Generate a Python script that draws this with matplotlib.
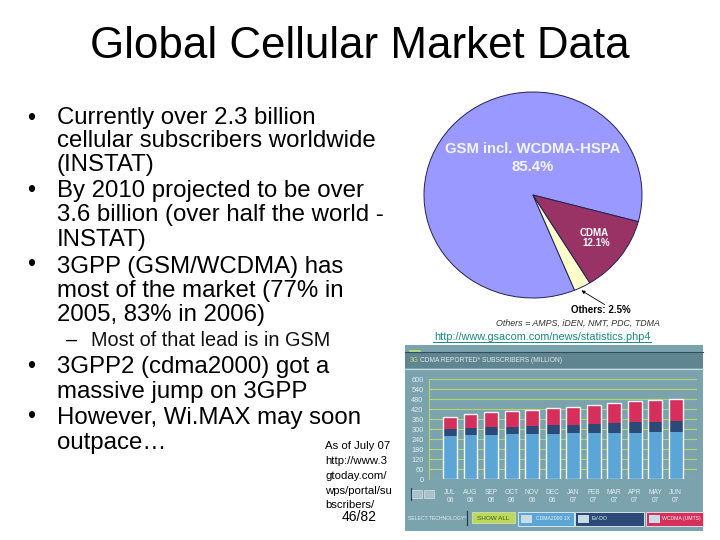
"""Slide: global cellular market data, with a pie and a stacked bar screenshot."""
import matplotlib
matplotlib.use("Agg")
import matplotlib.pyplot as plt
from matplotlib.patches import Rectangle

plt.rcParams["font.family"] = ["Liberation Sans", "DejaVu Sans"]

W, H = 720, 540

title = "Global Cellular Market Data"
body_lines = [
    "Currently over 2.3 billion", "cellular subscribers worldwide", "(INSTAT)",
    "By 2010 projected to be over", "3.6 billion (over half the world -", "INSTAT)",
    "3GPP (GSM/WCDMA) has", "most of the market (77% in", "2005, 83% in 2006)",
]
body_lines2 = ["3GPP2 (cdma2000) got a", "massive jump on 3GPP", "However, Wi.MAX may soon", "outpace…"]
note_lines = ["As of July 07", "http://www.3", "gtoday.com/", "wps/portal/su", "bscribers/"]

pie_labels = ["GSM incl. WCDMA-HSPA", "Others", "CDMA"]
pie_shares = [85.4, 2.5, 12.1]
pie_colors = ["#9999ff", "#ffffcc", "#993366"]

months = ["JUL\n06", "AUG\n06", "SEP\n06", "OCT\n06", "NOV\n06", "DEC\n06",
          "JAN\n07", "FEB\n07", "MAR\n07", "APR\n07", "MAY\n07", "JUN\n07"]
cdma2000 = [260, 266, 266, 270, 274, 274, 276, 278, 280, 280, 282, 286]
evdo = [42, 42, 48, 44, 46, 52, 52, 54, 58, 64, 62, 66]
wcdma = [74, 82, 88, 94, 98, 100, 106, 112, 118, 124, 130, 130]
y_ticks = [0, 60, 120, 180, 240, 300, 360, 420, 480, 540, 600]

fig = plt.figure(figsize=(W / 100, H / 100), dpi=100, facecolor="white")


def px_axes(x0, y0, x1, y1):
    return fig.add_axes([x0 / W, 1 - y1 / H, (x1 - x0) / W, (y1 - y0) / H])


def slide_axes():
    ax = px_axes(0, 0, W, H)
    ax.set_xlim(0, W)
    ax.set_ylim(H, 0)
    ax.axis("off")
    return ax


# whole slide in pixel coordinates, for the text and the screenshot frame
bg = slide_axes()

bg.text(360, 47, title, fontsize=31.6, ha="center", va="center", color="black")

body_y = [118, 141, 165, 191, 215, 240, 267, 291, 315]
for txt, y in zip(body_lines, body_y):
    bg.text(57, y, txt, fontsize=17.3, va="center")
for y in [118, 190, 264, 367, 417]:
    bg.text(27, y, "•", fontsize=16.5, va="center")
bg.text(91, 340, "Most of that lead is in GSM", fontsize=14.3, va="center", color="#111111")
bg.text(66, 340, "–", fontsize=14.3, va="center")
for txt, y in zip(body_lines2, [367, 392, 418, 443]):
    bg.text(57, y, txt, fontsize=17.3, va="center")

for txt, y in zip(note_lines, [446, 461, 476, 491, 505]):
    bg.text(325, y, txt, fontsize=8.2, va="center")
bg.text(342, 517, "46/82", fontsize=10, va="center")

# pie
pie_ax = px_axes(424, 92, 642, 298)
wedges, _ = pie_ax.pie(pie_shares, colors=pie_colors, startangle=-15, radius=1,
                       wedgeprops={"edgecolor": "#222255", "linewidth": 0.7})
pie_ax.set_aspect("auto")
pie_ax.set_xlim(-1, 1)
pie_ax.set_ylim(-1, 1)
for w in wedges:
    w.set_clip_on(False)

# pie labels sit on their own layer above the pie
fg = slide_axes()
fg.patch.set_alpha(0)
fg.text(533, 149, pie_labels[0], fontsize=10.7, fontweight="bold", color="#f4f4ff",
        ha="center", va="center")
fg.text(533, 167, f"{pie_shares[0]}%", fontsize=10.7, fontweight="bold", color="#f4f4ff",
        ha="center", va="center")
fg.text(594, 233, pie_labels[2], fontsize=7, fontweight="bold", color="white",
        ha="center", va="center")
fg.text(596, 243, f"{pie_shares[2]}%", fontsize=7, fontweight="bold", color="white",
        ha="center", va="center")
fg.annotate("", xy=(579, 289), xytext=(607, 306),
            arrowprops={"arrowstyle": "-|>", "color": "black", "lw": 0.6, "mutation_scale": 5})
bg.text(601, 310, f"{pie_labels[1]}: {pie_shares[1]}%", fontsize=7, fontweight="bold",
        ha="center", va="center")
bg.text(578, 323, "Others = AMPS, iDEN, NMT, PDC, TDMA", fontsize=6.4, style="italic",
        ha="center", va="center", color="#333333")
bg.text(542, 337, "http://www.gsacom.com/news/statistics.php4", fontsize=7.8,
        ha="center", va="center", color="#178a80")
bg.plot([433, 651], [341.5, 341.5], color="#178a80", lw=0.7)

# screenshot panel behind the bars
bg.add_patch(Rectangle((405, 345), 298, 186, fc="#7ba3ae", ec="none"))
bg.add_patch(Rectangle((405, 352), 298, 16, fc="#5f8591", ec="none"))
bg.plot([405, 703], [351.5, 351.5], color="#2f4f5a", lw=0.8)
bg.plot([405, 703], [368.5, 368.5], color="#c5dbe0", lw=0.8)
bg.plot([410, 420], [351, 351], color="#c6e070", lw=1.2)
bg.text(410, 360.5, "3G", fontsize=4.8, color="#c6e070", va="center")
bg.text(420, 360.5, "CDMA REPORTED* SUBSCRIBERS (MILLION)", fontsize=4.8, color="#dfe9ec", va="center")

# stacked bars
bar_ax = px_axes(429.3, 379.3, 696.7, 479.3)
bar_ax.patch.set_alpha(0)
xs = list(range(len(months)))
base2 = [a + b for a, b in zip(cdma2000, evdo)]
bar_ax.bar(xs, cdma2000, width=0.68, color="#5ba6d6", zorder=3)
bar_ax.bar(xs, evdo, width=0.68, bottom=cdma2000, color="#2b4a78", zorder=3)
bar_ax.bar(xs, wcdma, width=0.68, bottom=base2, color="#d62f5c", zorder=3)
totals = [a + b for a, b in zip(base2, wcdma)]
bar_ax.bar(xs, totals, width=0.68, fill=False, edgecolor="#f2f6f7", linewidth=1.0, zorder=4)
bar_ax.set_xlim(-1.007, 12.02)
bar_ax.set_ylim(0, 600)
bar_ax.set_yticks(y_ticks)
bar_ax.set_yticklabels([str(v) for v in y_ticks], fontsize=5.3, color="#e4edef")
bar_ax.set_xticks(xs)
bar_ax.set_xticklabels(months, fontsize=4.8, color="#e4edef", linespacing=1.1)
bar_ax.tick_params(length=0, pad=4)
bar_ax.tick_params(axis="x", pad=7)
bar_ax.grid(axis="y", color="#b5d56a", linewidth=0.8, zorder=1)
for side in ["top", "right", "bottom"]:
    bar_ax.spines[side].set_visible(False)
bar_ax.spines["left"].set_color("#b5d56a")
bar_ax.spines["left"].set_linewidth(0.8)

# paging and technology buttons of the screenshot
for x0 in [412, 424]:
    bg.add_patch(Rectangle((x0, 490), 10, 8, fc="#a9c3cc", ec="#e4edef", lw=0.4))
bg.plot([410.5, 410.5], [488, 500], color="#23404c", lw=0.8)
bg.text(408, 518, "SELECT TECHNOLOGY*", fontsize=3.7, color="#e4edef", va="center")
bg.plot([467, 467], [511, 525], color="#23404c", lw=0.9)
bg.add_patch(Rectangle((472, 512), 43, 11, fc="#bdd957", ec="#e8f0d0", lw=0.4))
bg.text(493, 518, "SHOW ALL", fontsize=4.6, color="#3d5a30", ha="center", va="center")
buttons = [(518, 56, "#5ba6d6", "CDMA2000 1X", 536),
           (575, 69, "#2b4a78", "EV-DO", 592),
           (645.5, 57.5, "#d62f5c", "WCDMA (UMTS)", 662)]
for x0, w, col, txt, tx in buttons:
    bg.add_patch(Rectangle((x0, 511.5), w, 14, fc=col, ec="#e8f0f3", lw=0.6))
    bg.add_patch(Rectangle((x0 + 3, 514.5), 11, 8, fc="#c9dbe4", ec="none"))
    bg.text(tx, 518.5, txt, fontsize=3.7, color="#eef4f6", va="center")

fig.savefig("out.png", dpi=100)
